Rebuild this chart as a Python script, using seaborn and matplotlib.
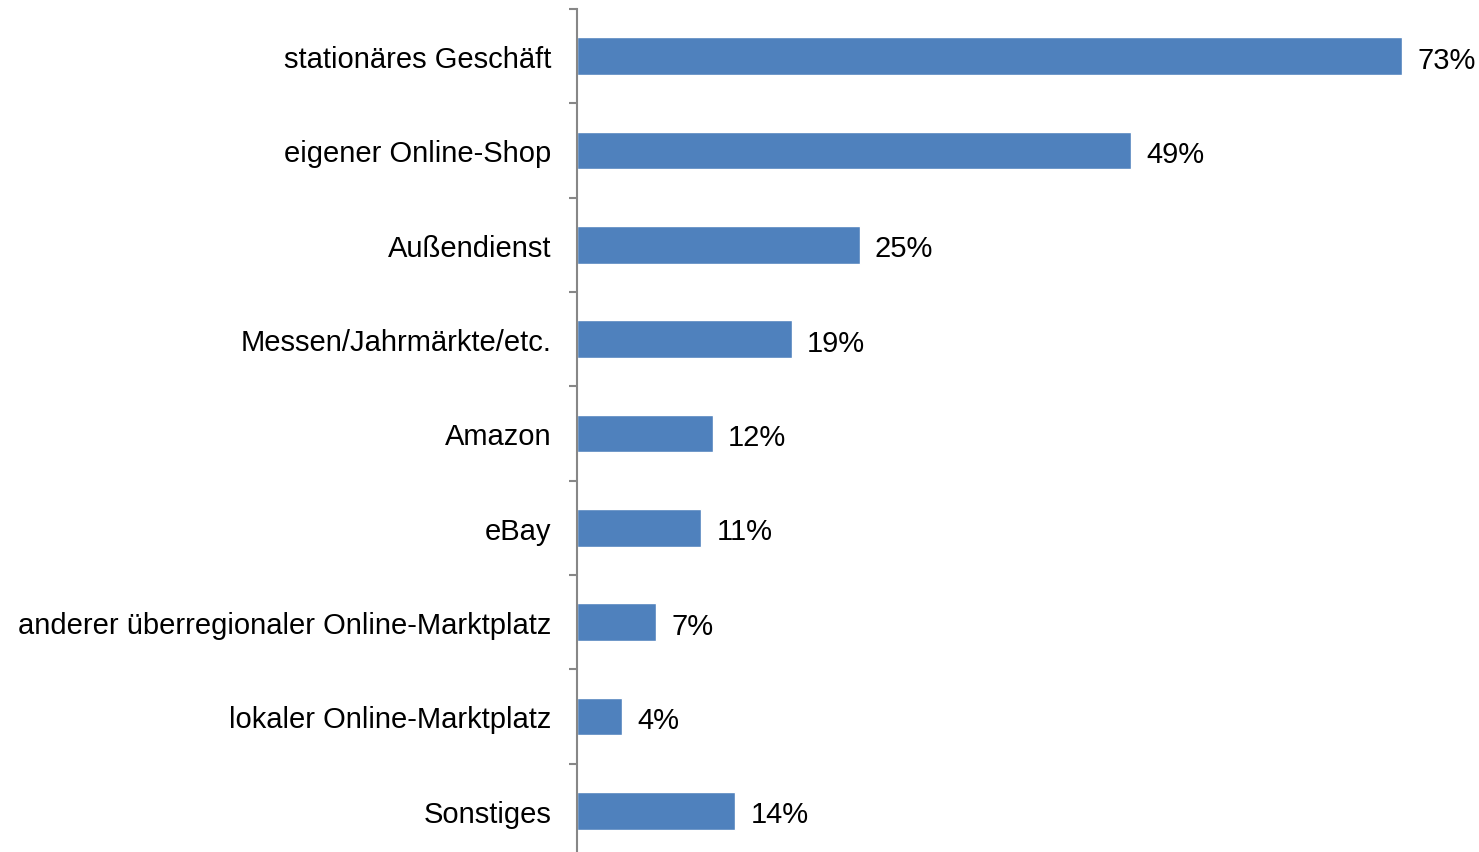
import matplotlib
matplotlib.use("Agg")
import matplotlib.pyplot as plt
import seaborn as sns
import pandas as pd
import numpy as np

# data
categories = [
    "stationäres Geschäft",
    "eigener Online-Shop",
    "Außendienst",
    "Messen/Jahrmärkte/etc.",
    "Amazon",
    "eBay",
    "anderer überregionaler Online-Marktplatz",
    "lokaler Online-Marktplatz",
    "Sonstiges",
]
values = [73, 49, 25, 19, 12, 11, 7, 4, 14]

df = pd.DataFrame({"kanal": categories, "anteil": values})

sns.set_theme(style="white")
plt.rcParams["font.family"] = ["Liberation Sans", "DejaVu Sans"]
plt.rcParams["text.color"] = "black"

fig = plt.figure(figsize=(14.79, 8.53), dpi=100)
ax = fig.add_axes([577 / 1479, -6 / 853, 902 / 1479, 849 / 853])

sns.barplot(data=df, y="kanal", x="anteil", color="#4F81BD", saturation=1,
            width=0.4, orient="h", ax=ax)

ax.set_xlim(0, 902 / 11.3)
ax.set_ylim(len(categories) - 0.5, -0.5)

for c in ax.containers:
    texts = ax.bar_label(c, labels=[f"{v}%" for v in values], padding=11,
                         fontsize=21, color="black")
    # nudge labels down a little, like the original
    for t in texts:
        t.xyann = (11, -2.5)

ax.set_xlabel("")
ax.set_ylabel("")
ax.set_xticks([])
for s in ["top", "right", "bottom"]:
    ax.spines[s].set_visible(False)
ax.spines["left"].set_color("#878787")
ax.spines["left"].set_linewidth(1.5)

ax.set_yticks(np.arange(len(categories)))
ax.set_yticklabels(categories, fontsize=21)
ax.set_yticks(np.arange(-0.5, len(categories), 1), minor=True)
ax.tick_params(axis="y", which="major", length=0, pad=18.5, labelcolor="black")
ax.tick_params(axis="y", which="minor", left=True, length=6, width=1.5, color="#878787")

fig.savefig("out.png", dpi=100)
